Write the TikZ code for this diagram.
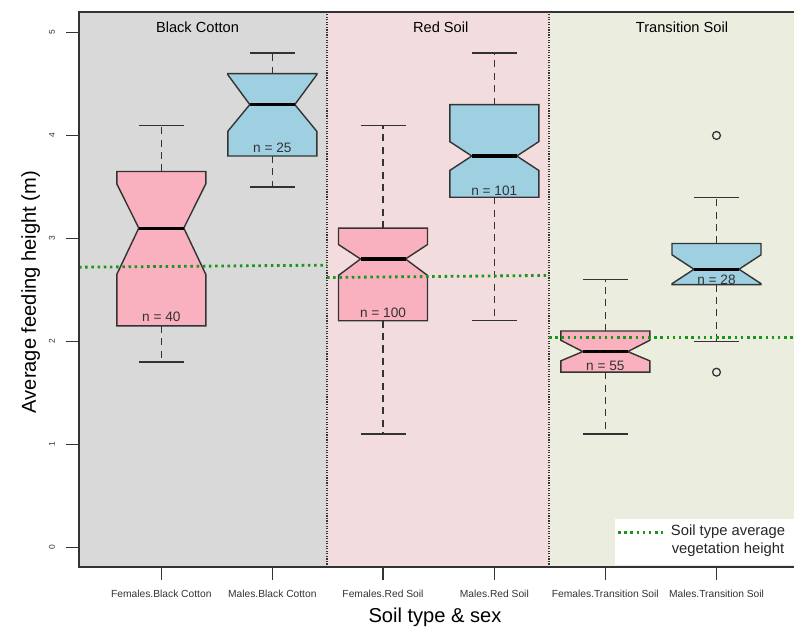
\documentclass[tikz,border=0pt]{standalone}
\usepackage{fontspec}
\setmainfont{Liberation Sans}
\definecolor{bcgray}{HTML}{D9D9D9}
\definecolor{rsred}{HTML}{F3DCDD}
\definecolor{tsgreen}{HTML}{EBEEDF}
\definecolor{boxpink}{HTML}{F9B0BF}
\definecolor{boxblue}{HTML}{9FD0E2}
\definecolor{vegline}{HTML}{1A961A}
\definecolor{axisgray}{HTML}{333333}
\begin{document}
\begin{tikzpicture}[x=0.025cm,y=2.5725cm,
	whisk/.style={axisgray,line width=0.9pt,dash pattern=on 5pt off 3.8pt},
	capline/.style={axisgray,line width=0.9pt},
	boxline/.style={axisgray,line width=1pt,line join=miter},
	medline/.style={black,line width=2.2pt},
	vegdots/.style={vegline,line width=2pt,dash pattern=on 1.8pt off 2.6pt},
	divline/.style={axisgray,line width=0.8pt,densely dotted},
	frameline/.style={axisgray,line width=1.4pt},
	nlab/.style={font=\fontsize{9.7}{11}\selectfont,text=axisgray,inner sep=0pt},
	xlab/.style={font=\fontsize{7.3}{9}\selectfont,text=axisgray,inner sep=0pt}]
	\useasboundingbox (0,-0.777) rectangle (794,5.316);
	\fill[bcgray] (79,-0.194) rectangle (327,5.199);
	\fill[rsred] (327,-0.194) rectangle (549,5.199);
	\fill[tsgreen] (549,-0.194) rectangle (794,5.199);
	\fill[white] (615,-0.175) rectangle (794,0.272);
	\draw[divline] (327,-0.194) -- (327,5.199);
	\draw[divline] (549,-0.194) -- (549,5.199);
	\node[font=\fontsize{10.4}{12}\selectfont] (bclab) at (197.5,5.05) {Black Cotton};
	\node[font=\fontsize{10.4}{12}\selectfont] (rslab) at (440.7,5.05) {Red Soil};
	\node[font=\fontsize{10.4}{12}\selectfont] (tslab) at (682,5.05) {Transition Soil};
	\foreach \x/\qa/\nl/\md/\nu/\qb/\wl/\wh/\ny/\cnt/\col in {
		161.3/2.15/2.65/3.10/3.53/3.65/1.80/4.10/2.24/40/boxpink,
		272.3/3.80/4.04/4.30/4.59/4.60/3.50/4.80/3.88/25/boxblue,
		383.0/2.20/2.64/2.80/2.94/3.10/1.10/4.10/2.28/100/boxpink,
		494.3/3.40/3.66/3.80/3.94/4.30/2.20/4.80/3.46/101/boxblue,
		605.3/1.70/1.81/1.90/2.01/2.10/1.10/2.60/1.76/55/boxpink,
		716.5/2.55/2.56/2.70/2.84/2.95/2.00/3.40/2.60/28/boxblue}{
		\draw[whisk] (\x,\qb) -- (\x,\wh);
		\draw[whisk] (\x,\qa) -- (\x,\wl);
		\draw[capline] (\x-22.5,\wh) -- (\x+22.5,\wh);
		\draw[capline] (\x-22.5,\wl) -- (\x+22.5,\wl);
		\draw[boxline,fill=\col] (\x-44.5,\qa) -- (\x-44.5,\nl) -- (\x-22.5,\md) -- (\x-44.5,\nu) -- (\x-44.5,\qb)
			-- (\x+44.5,\qb) -- (\x+44.5,\nu) -- (\x+22.5,\md) -- (\x+44.5,\nl) -- (\x+44.5,\qa) -- cycle;
		\draw[medline] (\x-22.5,\md) -- (\x+22.5,\md);
		\node[nlab] (n\cnt) at (\x,\ny) {n = \cnt};
	}
	\draw[capline] (716.5,4.0) circle[radius=2.8pt];
	\draw[capline] (716.5,1.7) circle[radius=2.8pt];
	\draw[vegdots] (79,2.72) -- (327,2.74);
	\draw[vegdots] (327,2.62) -- (549,2.64);
	\draw[vegdots] (549,2.04) -- (794,2.04);
	\draw[vegdots] (618,0.146) -- (663,0.146);
	\node[font=\fontsize{10.5}{12.8}\selectfont,align=center,text=black!85] (legtext) at (728,0.065) {Soil type average\\vegetation height};
	\draw[frameline] (794,5.199) -- (79,5.199) -- (79,-0.194) -- (794,-0.194);
	\foreach \v in {0,...,5}{
		\draw[capline] (66,\v) -- (79,\v);
		\node[font=\fontsize{6}{7}\selectfont,rotate=90,text=axisgray] (ytick\v) at (52,\v) {\v};
	}
	\foreach \x/\lab in {161.3/Females.Black Cotton,272.3/Males.Black Cotton,383.0/Females.Red Soil,
		494.3/Males.Red Soil,605.3/Females.Transition Soil,716.5/Males.Transition Soil}{
		\draw[capline] (\x,-0.194) -- (\x,-0.321);
		\node[xlab] at (\x,-0.457) {\lab};
	}
	\node[font=\fontsize{14.3}{16}\selectfont,anchor=base] (xtitle) at (435,-0.729) {Soil type \& sex};
	\node[font=\fontsize{14.3}{16}\selectfont,anchor=base,rotate=90] (ytitle) at (36,2.478) {Average feeding height (m)};
\end{tikzpicture}
\end{document}
